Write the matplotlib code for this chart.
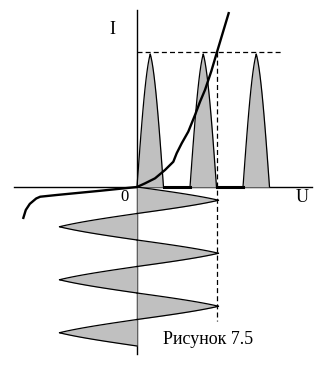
import matplotlib
matplotlib.use("Agg")
import matplotlib.pyplot as plt
import numpy as np

# diode I-V characteristic (U in units of Um, I in units of Imax)
diode_u = [-1.425, -1.39, -1.34, -1.26, -1.21, -1.0, -0.46, 0.0,
           0.10, 0.225, 0.35, 0.454, 0.496, 0.559, 0.641, 0.725, 0.788,
           0.85, 0.93, 1.0, 1.15]
diode_i = [-0.237, -0.170, -0.125, -0.085, -0.072, -0.059, -0.028, 0.0,
           0.027, 0.064, 0.126, 0.187, 0.25, 0.324, 0.41, 0.533, 0.632,
           0.719, 0.86, 1.0, 1.296]

# current pulses (half-wave rectified), peak values
pulse_peaks = [0.985, 0.985, 0.985]
# input voltage half-waves, peak values (time runs downward)
wave_peaks = [1.02, -0.97, 1.02, -0.97, 1.02, -0.97]

gray = "#c0c0c0"
x_per_period = 53 / 80     # horizontal length of one period (top plot)
y_per_period = 53 / 135    # vertical length of one period (bottom plot)


def half_wave(s, roundness):
    # hand-drawn half wave: blend of sine and triangle
    tri = 1 - np.abs(2 * s - 1)
    return roundness * np.sin(np.pi * s) + (1 - roundness) * tri


fig = plt.figure(figsize=(3.36, 3.67), dpi=100)
ax = fig.add_axes([0, 0, 1, 1])
ax.set_xlim(-137 / 80, 199 / 80)
ax.set_ylim((187 - 367) / 135, 187 / 135)
ax.axis("off")

# axes lines
ax.plot([-1.54, 2.19], [0, 0], color="black", lw=1)
ax.plot([0, 0], [-1.24, 1.31], color="black", lw=1)

# dashed guide lines
ax.plot([0, 1.81], [1.0, 1.0], color="black", lw=0.9, ls=(0, (4, 2.5)))
ax.plot([1.0, 1.0], [1.0, -0.99], color="black", lw=0.9, ls=(0, (4, 2.5)))

s = np.linspace(0, 1, 81)

# current pulses on top
for k, peak in enumerate(pulse_peaks):
    t = (k + s / 2) * x_per_period
    cur = peak * half_wave(s, 0.65)
    ax.fill_between(t, 0, cur, color=gray, lw=0, zorder=2)
    ax.plot(t, cur, color="black", lw=0.9, zorder=3)
    if k < len(pulse_peaks) - 1:
        ax.plot([(k + 0.5) * x_per_period, (k + 1) * x_per_period], [0, 0],
                color="black", lw=2.2, zorder=3)

# input voltage wave (time downward)
for k, peak in enumerate(wave_peaks):
    t = -(k + s) * y_per_period / 2
    u = peak * half_wave(s, 0.3)
    ax.fill_betweenx(t, 0, u, color=gray, lw=0, zorder=2)
    ax.plot(u, t, color="black", lw=0.9, zorder=3)

# diode characteristic
ax.plot(diode_u, diode_i, color="black", lw=1.7, zorder=4,
        solid_capstyle="butt", solid_joinstyle="round")

font = dict(family=["Liberation Serif", "DejaVu Serif"], color="black")
ax.text((112 - 137) / 80, (187 - 29) / 135, "I", ha="center", va="center",
        fontsize=13, **font)
ax.text((302 - 137) / 80, (187 - 197) / 135, "U", ha="center", va="center",
        fontsize=13, **font)
ax.text((124 - 137) / 80, (187 - 197) / 135, "0", ha="center", va="center",
        fontsize=12, **font)
ax.text((208 - 137) / 80, (187 - 340) / 135, "Рисунок 7.5", ha="center",
        va="center", fontsize=13, **font)

fig.savefig("out.png", dpi=100)
